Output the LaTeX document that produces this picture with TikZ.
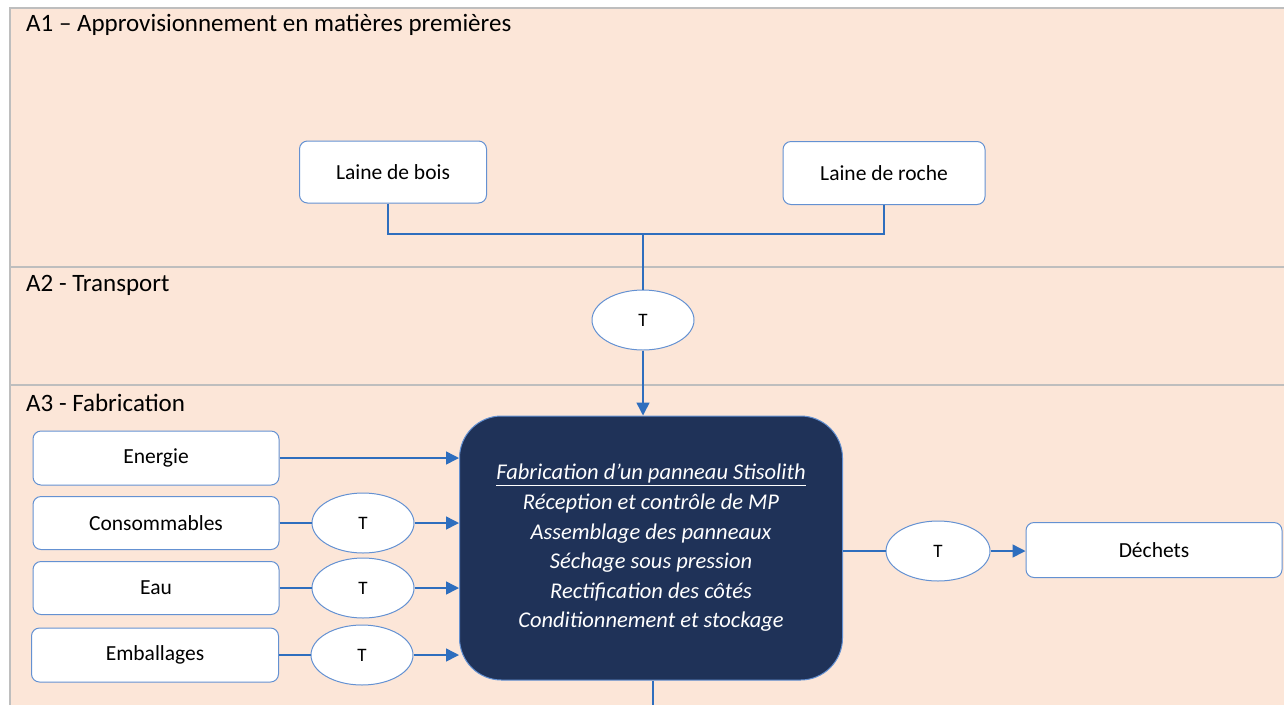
\documentclass[tikz,border=0pt]{standalone}
\usepackage{fontspec}
\setmainfont{Carlito}
\usetikzlibrary{arrows.meta,shapes.geometric}
\definecolor{peach}{RGB}{252,230,216}
\definecolor{framegray}{RGB}{190,190,190}
\definecolor{boxblue}{RGB}{100,145,210}
\definecolor{lineblue}{RGB}{46,110,190}
\definecolor{navy}{RGB}{31,50,88}
\tikzset{
  inbox/.style={draw=boxblue, line width=1pt, fill=white, rounded corners=8pt, inner sep=0pt, font=\fontsize{21.5}{25}\selectfont},
  tell/.style={ellipse, draw=boxblue, line width=1pt, fill=white, inner sep=0pt, minimum width=102pt, minimum height=60pt, font=\fontsize{19}{22}\selectfont},
  conn/.style={draw=lineblue, line width=1.5pt},
  arr/.style={conn, -{Triangle[length=13pt,width=13pt]}},
  sect/.style={anchor=west, inner sep=0pt, font=\fontsize{25}{29}\selectfont},
  divider/.style={draw=framegray, line width=1.2pt}
}
\begin{document}
\begin{tikzpicture}[x=1pt,y=-1pt]
\useasboundingbox (0,0) rectangle (1284,705);
\fill[white] (0,0) rectangle (1284,705);
\fill[peach] (10,8) rectangle (1284,705);
\draw[divider] (10,705) -- (10,8) -- (1284,8);
\draw[divider] (10,267) -- (1284,267);
\draw[divider] (10,385) -- (1284,385);

\node[sect] (s1) at (26,25) {A1 – Approvisionnement en matières premières};
\node[sect] (s2) at (26,285) {A2 - Transport};
\node[sect] (s3) at (26,403) {A3 - Fabrication};

\node[inbox, minimum width=187pt, minimum height=62pt] (lb) at (393,172) {Laine de bois};
\node[inbox, minimum width=202pt, minimum height=63pt] (lr) at (884,173) {Laine de roche};
\node[tell] (t1) at (643,320) {T};
\coordinate (J) at (643,234);

\node[draw=boxblue, line width=1pt, fill=navy, rounded corners=42pt, minimum width=383pt, minimum height=264pt, inner sep=0pt,
      text=white, align=center, font=\fontsize{22.5}{29.6}\selectfont\itshape] (main) at (651,548)
  {\underline{Fabrication d’un panneau Stisolith}\\Réception et contrôle de MP\\Assemblage des panneaux\\Séchage sous pression\\Rectification des côtés\\Conditionnement et stockage};

\node[inbox, minimum width=246pt, minimum height=54pt] (en) at (156,458) {Energie};
\node[inbox, minimum width=246pt, minimum height=53pt] (co) at (156,523) {Consommables};
\node[inbox, minimum width=246pt, minimum height=53pt] (ea) at (156,588) {Eau};
\node[inbox, minimum width=247pt, minimum height=54pt] (em) at (155,655) {Emballages};

\node[tell] (tc) at (363,523) {T};
\node[tell] (te) at (363,588) {T};
\node[tell] (tm) at (362,655) {T};

\node[tell, minimum width=104pt] (td) at (938,551) {T};
\node[inbox, minimum width=256pt, minimum height=55pt] (de) at (1154,550) {Déchets};
\coordinate (mb) at (653,705);

\draw[conn] ([xshift=-5pt]lb.south) |- (J) -| (lr.south);
\draw[conn] (J) -- (t1.north);
\draw[arr] (t1.south) -- (t1.south |- main.north);
\draw[arr] (en.east) -- (en.east -| main.west);
\draw[conn] (co.east) -- (tc.west);
\draw[arr] (tc.east) -- (tc.east -| main.west);
\draw[conn] (ea.east) -- (te.west);
\draw[arr] (te.east) -- (te.east -| main.west);
\draw[conn] (em.east) -- (tm.west);
\draw[arr] (tm.east) -- (tm.east -| main.west);
\draw[conn] (td.west -| main.east) -- (td.west);
\draw[arr] (td.east) -- (td.east -| de.west);
\draw[conn] (mb |- main.south) -- (mb);
\end{tikzpicture}
\end{document}
